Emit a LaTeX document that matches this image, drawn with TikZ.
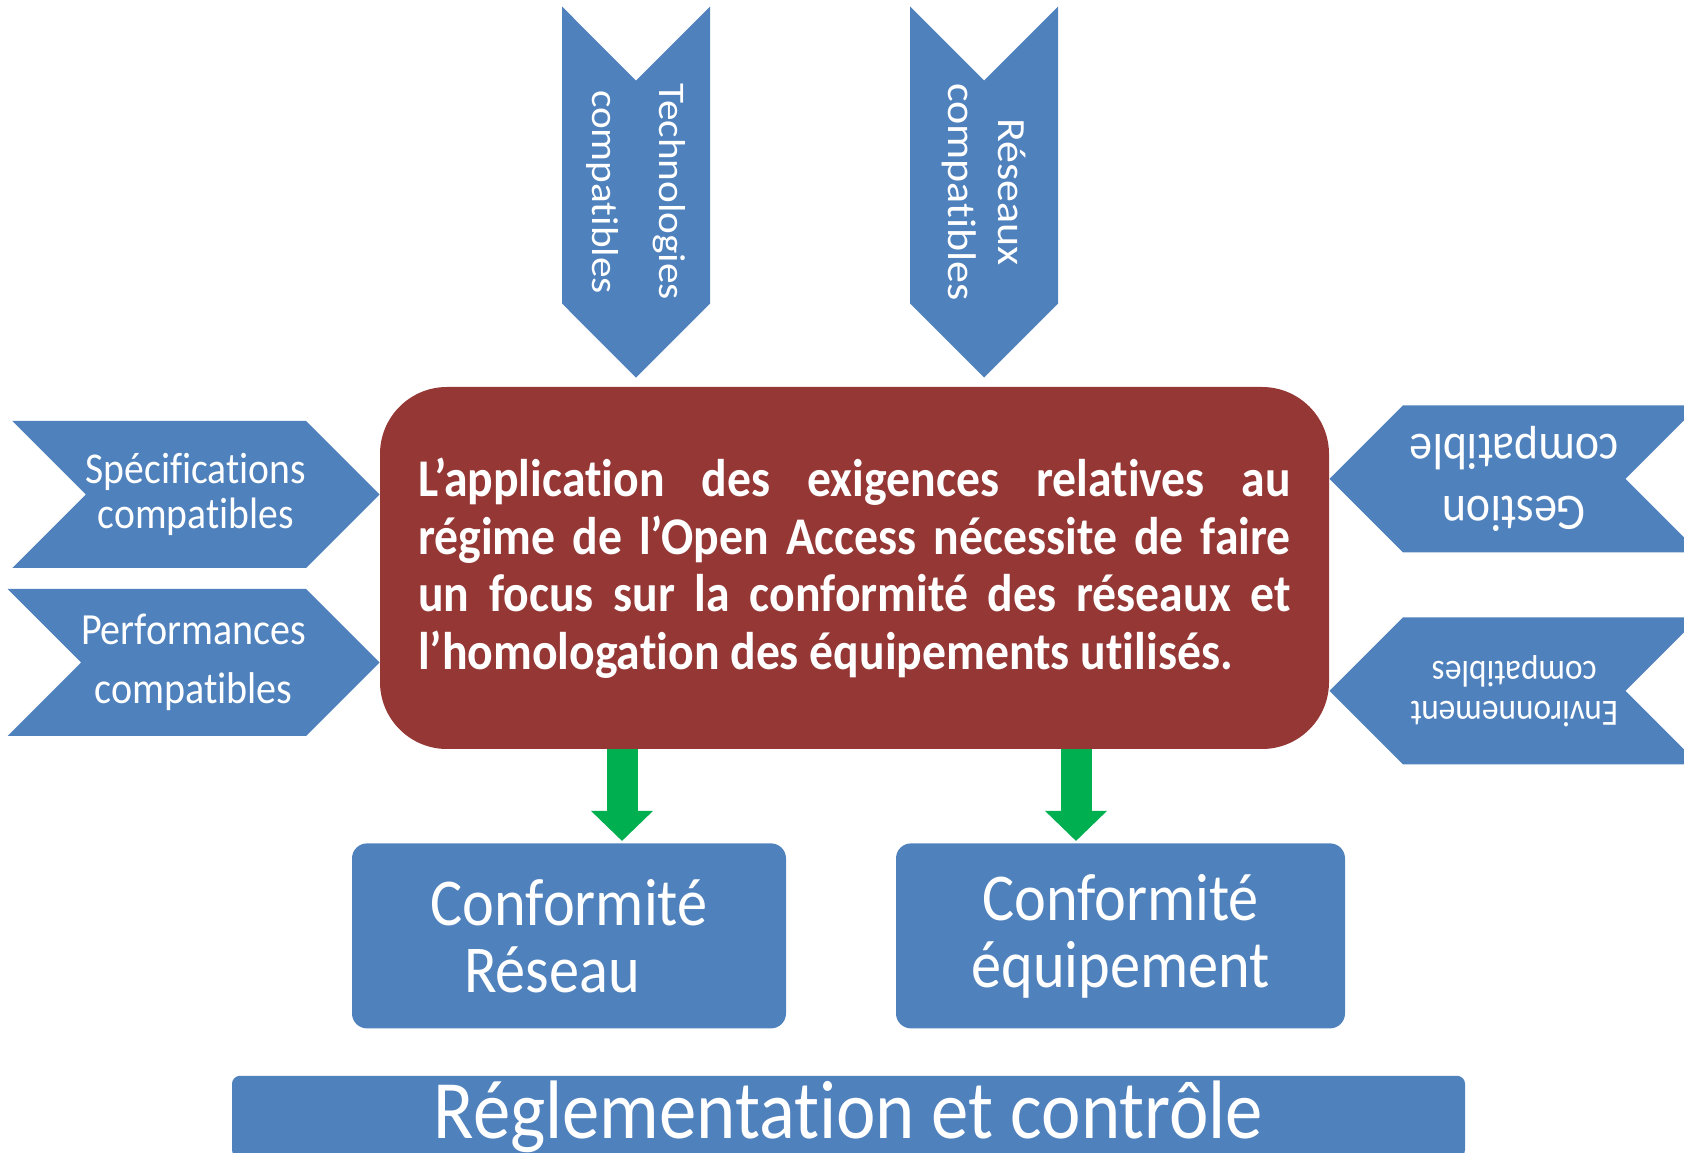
\documentclass[tikz,border=0pt]{standalone}
\usepackage{fontspec}
\setmainfont{Carlito}[FakeStretch=0.9, Ligatures={NoCommon,NoContextual}, RawFeature={-liga;-clig;-calt;-dlig}]
\newfontfamily\vertfont{Carlito}[FakeStretch=1.1, Ligatures={NoCommon,NoContextual}, RawFeature={-liga;-clig;-calt;-dlig}]
\usetikzlibrary{arrows.meta, positioning, shapes.symbols}

\definecolor{chevblue}{RGB}{79,129,189}
\definecolor{focusred}{RGB}{149,55,53}
\definecolor{flowgreen}{RGB}{0,176,80}

\begin{document}
\begin{tikzpicture}[x=1pt, y=1pt]

% Styles
        \tikzstyle{chevron}=[signal, signal to=east, signal from=west, signal pointer angle=90, fill=chevblue, text=white, inner sep=0pt, align=center, minimum width=366pt, minimum height=147pt]
        \tikzstyle{focus}=[rectangle, fill=focusred, text=white, rounded corners=67pt, minimum width=949pt, minimum height=362pt, text width=873pt, align=justify, font=\fontsize{53}{57.5}\selectfont\bfseries]
        \tikzstyle{block}=[rectangle, fill=chevblue, text=white, rounded corners=15pt, minimum height=185pt, align=center, font=\fontsize{67}{67}\selectfont]
        \tikzstyle{bar}=[rectangle, fill=chevblue, text=white, rounded corners=8pt, minimum width=1233pt, minimum height=82pt, inner sep=0pt, font=\fontsize{83}{90}\selectfont]
        \tikzstyle{flow}=[-{Triangle[width=60pt, length=30pt]}, draw=flowgreen, line width=31pt]

        \useasboundingbox (0,0) rectangle (1684,1152);
        \clip (0,0) rectangle (1684,1152);

% Nodes
% Central requirement
        \node[focus] (main) at (854.5,584) {L’application des exigences relatives au\linebreak régime de l’Open Access nécessite de faire\linebreak un focus sur la conformité des réseaux et\linebreak l’homologation des équipements utilisés.};

% Left inputs
        \node[chevron, anchor=east, font=\fontsize{44}{45}\selectfont] (spec) at ([yshift=73.5pt]main.west) {Spécifications\\compatibles};
        \node[chevron, anchor=east, font=\fontsize{44.5}{59}\selectfont] (perf) at ([yshift=-94.5pt]main.west) {Performances\\compatibles};

% Right inputs
        \node[chevron, rotate=180, anchor=east, minimum width=369.5pt, font=\fontsize{51}{62}\selectfont] (gest) at ([yshift=89pt]main.east) {Gestion\\compatible};
        \node[chevron, rotate=180, anchor=east, minimum width=369.5pt, font=\fontsize{37}{40}\selectfont] (envir) at ([yshift=-123pt]main.east) {Environnement\\compatibles};

% Top inputs
        \node[chevron, rotate=-90, anchor=east, minimum width=371pt, minimum height=148pt, font=\vertfont\fontsize{37.5}{67}\selectfont] (techno) at ([xshift=-218.5pt, yshift=9pt]main.north) {Technologies\\compatibles};
        \node[chevron, rotate=-90, anchor=east, minimum width=371pt, minimum height=148pt, font=\vertfont\fontsize{40}{50}\selectfont] (reseaux) at ([xshift=129.5pt, yshift=9pt]main.north) {Réseaux\\compatibles};

% Conformity blocks
        \node[block, minimum width=434pt, below=94pt of main.south, xshift=-285.5pt] (confres) {Conformité\\Réseau\hspace*{34pt}};
        \node[block, minimum width=449pt, below=94pt of main.south, xshift=266pt] (confequip) {Conformité\\équipement};

% Regulation bar
        \node[bar, below=47pt of confres.south, xshift=279.5pt] (regl) {Réglementation et contrôle};

% Connections
        \coordinate (tipres) at (622,311);
        \coordinate (tipequip) at (1076,311);
        \draw[flow] (tipres |- main.south) -- (tipres);
        \draw[flow] (tipequip |- main.south) -- (tipequip);

\end{tikzpicture}
\end{document}
